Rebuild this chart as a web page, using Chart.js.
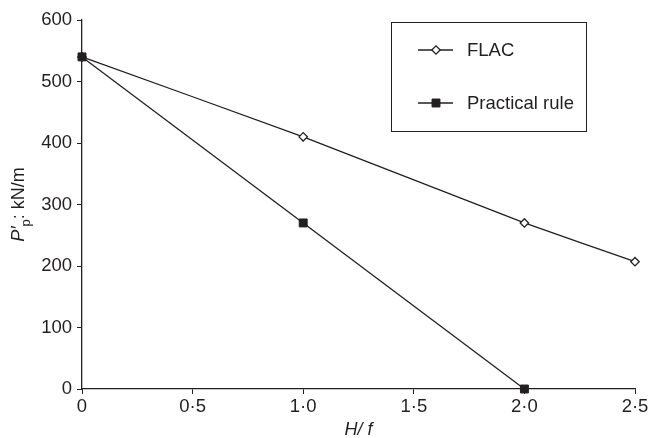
<!DOCTYPE html>
<html>
<head>
<meta charset="utf-8">
<script src="https://cdn.jsdelivr.net/npm/chart.js@4/dist/chart.umd.min.js"></script>
<style>
  html, body { margin: 0; padding: 0; background: #fff; }
  #wrap { width: 648px; height: 438px; position: relative; }
</style>
</head>
<body>
<div id="wrap"><canvas id="chart"></canvas></div>
<script>
// Values
const hfValues = [0, 1, 2, 2.5];
const flacValues = [540, 410, 270, 207];
const ruleHf = [0, 1, 2];
const ruleValues = [540, 270, 0];
const xTickLabels = ['0', '0·5', '1·0', '1·5', '2·0', '2·5'];
const seriesNames = ['FLAC', 'Practical rule'];

const ink = '#231f20';
const font = '"Liberation Sans", Arial, Helvetica, sans-serif';

// Boxed legend inside the plot plus the axis titles (italic, subscript)
const decorations = {
    id: 'decorations',
    afterDraw(chart) {
        const ctx = chart.ctx;
        const area = chart.chartArea;
        ctx.save();
        ctx.strokeStyle = ink;
        ctx.fillStyle = ink;

        // legend box
        ctx.lineWidth = 1;
        ctx.strokeRect(391.5, 22.5, 195, 109);
        const rows = [50, 103];
        chart.data.datasets.forEach((ds, i) => {
            const y = rows[i];
            ctx.strokeStyle = ink;
            ctx.lineWidth = 1.3;
            ctx.beginPath();
            ctx.moveTo(418, y);
            ctx.lineTo(453, y);
            ctx.stroke();
            ctx.fillStyle = ds.pointBackgroundColor;
            ctx.lineWidth = ds.pointBorderWidth;
            ctx.beginPath();
            if (ds.pointStyle === 'rectRot') {
                const r = ds.pointRadius;
                ctx.moveTo(436 - r, y); ctx.lineTo(436, y - r);
                ctx.lineTo(436 + r, y); ctx.lineTo(436, y + r);
            } else {
                const s = ds.pointRadius * Math.SQRT1_2;
                ctx.rect(436 - s, y - s, 2 * s, 2 * s);
            }
            ctx.closePath();
            ctx.fill();
            ctx.stroke();
            ctx.fillStyle = ink;
            ctx.font = '18.5px ' + font;
            ctx.textBaseline = 'middle';
            ctx.textAlign = 'left';
            ctx.fillText(ds.label, 467, y + 1);
        });

        // x title: H/f
        ctx.font = 'italic 18px ' + font;
        ctx.textAlign = 'center';
        ctx.textBaseline = 'middle';
        ctx.fillText('H/ f', (area.left + area.right) / 2, 430);

        // y title: P'p: kN/m, rotated
        ctx.translate(19, (area.top + area.bottom) / 2);
        ctx.rotate(-Math.PI / 2);
        ctx.textBaseline = 'middle';
        ctx.textAlign = 'left';
        const partP = 'P′';
        const partSub = 'p';
        const partRest = ': kN/m';
        ctx.font = 'italic 18px ' + font;
        const wP = ctx.measureText(partP).width;
        ctx.font = '13px ' + font;
        const wSub = ctx.measureText(partSub).width;
        ctx.font = '18px ' + font;
        const wRest = ctx.measureText(partRest).width;
        let x = -(wP + wSub + wRest) / 2;
        ctx.font = 'italic 18px ' + font;
        ctx.fillText(partP, x, 0);
        x += wP;
        ctx.font = '13px ' + font;
        ctx.fillText(partSub, x, 7);
        x += wSub;
        ctx.font = '18px ' + font;
        ctx.fillText(partRest, x, 0);
        ctx.restore();
    }
};

new Chart(document.getElementById('chart'), {
    type: 'line',
    data: {
        datasets: [
            {
                label: seriesNames[0],
                data: hfValues.map((h, i) => ({ x: h, y: flacValues[i] })),
                borderColor: ink,
                borderWidth: 1.3,
                tension: 0.12,
                pointStyle: 'rectRot',
                pointRadius: 4.2,
                pointBorderWidth: 1.3,
                pointBackgroundColor: '#ffffff',
                pointBorderColor: ink,
                order: 2
            },
            {
                label: seriesNames[1],
                data: ruleHf.map((h, i) => ({ x: h, y: ruleValues[i] })),
                borderColor: ink,
                borderWidth: 1.3,
                tension: 0,
                pointStyle: 'rect',
                pointRadius: 5.6,
                pointBorderWidth: 1,
                pointBackgroundColor: ink,
                pointBorderColor: ink,
                order: 1
            }
        ]
    },
    options: {
        responsive: true,
        maintainAspectRatio: false,
        animation: false,
        clip: false,
        layout: { padding: { top: 20, right: 13, left: 0, bottom: 0 } },
        plugins: {
            legend: { display: false },
            tooltip: { enabled: false }
        },
        scales: {
            x: {
                type: 'linear',
                min: 0,
                max: 2.5,
                afterFit: (scale) => {
                    scale.height = 49;
                    scale.paddingRight = 0;
                    scale.paddingLeft = 0;
                },
                afterBuildTicks: (scale) => {
                    scale.ticks = xTickLabels.map((_, i) => ({ value: i * 0.5 }));
                },
                ticks: {
                    color: ink,
                    font: { family: font, size: 18.5 },
                    padding: 2,
                    maxRotation: 0,
                    callback: (v, i) => xTickLabels[i]
                },
                grid: {
                    drawOnChartArea: false,
                    drawTicks: true,
                    tickLength: 5,
                    color: ink,
                    lineWidth: 1
                },
                border: { display: true, color: ink, width: 1.3 }
            },
            y: {
                min: 0,
                max: 600,
                afterFit: (scale) => { scale.width = 82; },
                ticks: {
                    stepSize: 100,
                    color: ink,
                    font: { family: font, size: 18.5 },
                    padding: 5
                },
                grid: {
                    drawOnChartArea: false,
                    drawTicks: true,
                    tickLength: 5,
                    color: ink,
                    lineWidth: 1
                },
                border: { display: true, color: ink, width: 1.3 }
            }
        }
    },
    plugins: [decorations]
});
</script>
</body>
</html>
